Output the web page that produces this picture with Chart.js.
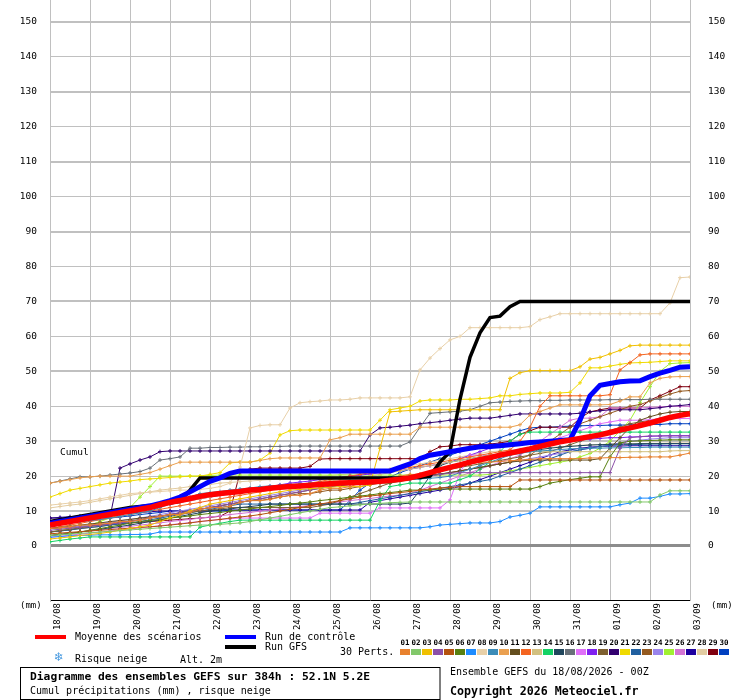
<!DOCTYPE html>
<html><head><meta charset="utf-8">
<script src="https://cdn.jsdelivr.net/npm/chart.js@4.4.0/dist/chart.umd.min.js"></script>
<style>html,body{margin:0;padding:0;background:#fff}canvas{display:block}</style>
</head><body>
<canvas id="c" width="740" height="700"></canvas>
<script>
// ---- tick labels ----
const dateLabels = ['18/08','19/08','20/08','21/08','22/08','23/08','24/08','25/08','26/08','27/08','28/08','29/08','30/08','31/08','01/09','02/09','03/09'];
const yTickValues = [0,10,20,30,40,50,60,70,80,90,100,110,120,130,140,150];

// ---- main series (6-hourly cumulative precipitation, mm) ----
const meanValues = [6,6.5,7,7.5, 8,8.5,9,9.5, 10,10.5,11,11.8, 12.5,13,13.6,14.2, 14.7,15,15.3,15.6, 16,16.2,16.5,16.8, 17,17.2,17.4,17.6, 17.8,18,18.1,18.2, 18.3,18.5,18.8,19.1, 19.5,20.2,21,21.8, 22.5,23.2,24,24.7, 25.3,26,26.6,27.2, 27.8,28.5,29.2,29.8, 30.3,30.8,31.3,31.8, 32.5,33.2,33.8,34.5, 35.2,36,36.8,37.4, 37.9];
const controlValues = [6.5,7,7.5,8, 8.5,9,9.5,10, 10.5,11,11.5,12.2, 13,14,15.5,17, 18.5,19.5,20.8,21.5, 21.5,21.5,21.5,21.5, 21.5,21.5,21.5,21.5, 21.5,21.5,21.5,21.5, 21.5,21.5,21.5,22.5, 23.5,25,26,26.5, 27,27.5,28,28.4, 28.5,28.7,29,29.3, 29.6,29.8,30,30.2, 30.4,36,43,46, 46.5,47,47.2,47.3, 48.5,49.5,50.3,51.2, 51.3];
const gfsValues = [7,7.5,8,8.5, 9,9.5,10,10.5, 11,11.3,11.6,12, 12.3,12.8,16,19.5, 19.5,19.5,19.5,19.5, 19.5,19.5,19.5,19.5, 19.5,19.5,19.5,19.5, 19.5,19.5,19.5,19.5, 19.5,19.5,19.5,19.5, 19.6,19.6,20,24, 27,42,54,61, 65.4,65.8,68.5,70, 70,70,70,70, 70,70,70,70, 70,70,70,70, 70,70,70,70, 70];

// ---- 30 perturbations ----
const p01 = [5,5.2,5.5,6, 6,6.3,6.5,7, 7,7.4,8,8.5, 9,9,9.6,10.5, 11,11,11.4,12.5, 13,13,13.3,14, 14.5,14.5,15,16, 16.5,16.5,17,18, 18.5,18.5,19,20, 20.5,20.5,21,22, 22.5,23,23.5,24, 24,24.2,24.4,24.6, 24.8,25,25,25, 25,25,25.2,25.2, 25.3,25.3,25.4,25.4, 25.5,25.5,25.5,26, 26.6];
const p02 = [3,3.2,3.4,3.6, 3.8,4,4.2,4.4, 4.6,4.8,5,5.2, 5.4,5.6,5.8,6, 6,6.2,6.4,6.6, 7,7.5,8,8.5, 9,9.5,10,10.5, 11,11.2,11.5,11.8, 12,12.2,12.4,12.5, 12.6,12.6,12.6,12.6, 12.6,12.6,12.6,12.6, 12.6,12.6,12.6,12.6, 12.6,12.6,12.6,12.6, 12.6,12.6,12.6,12.6, 12.6,12.6,12.6,12.6, 12.6,14.6,15.8,15.8, 15.8];
const p03 = [2,2.3,2.6,3, 3.3,3.6,4,4.5, 5,5.5,6,7, 8,9,10,11, 12,12.5,13,13.5, 14,14.5,15,15.5, 16,16.2,16.4,16.6, 16.8,17,17,17, 17.5,28,38.4,38.6, 38.8,39,39,39, 39,39,39,39, 39,39,48,49.6, 50.2,50.2,50.2,50.2, 50.2,51.3,53.5,54, 55,56,57.3,57.5, 57.5,57.5,57.5,57.5, 57.5];
const p04 = [4.5,4.8,5.1,5.4, 5.7,6,6.3,6.6, 7,7.5,8,8.5, 9,9.5,10,10.5, 11,11.5,12,12.5, 13,13.5,14,14.5, 15,15.5,16,16.5, 17,17.5,18,18, 18.3,18.6,19,19.3, 19.5,19.8,20,20.5, 20.8,21,21,21, 21,21,21,21, 21,21,21,21, 21,21,21,21, 21,28,31,31.3, 31.5,31.5,31.5,31.5, 31.5];
const p05 = [3.5,3.7,3.9,4.1, 4.3,4.5,4.7,4.9, 5.1,5.3,5.5,5.7, 6,6.3,6.6,7, 7.3,7.6,8,8.3, 8.6,9,9.5,10, 10.5,11,11.5,12, 12.5,13,13.5,14, 14.3,14.6,15,15.3, 15.6,16,16.3,16.6, 16.8,17,17,17, 17,17,17,18.9, 18.9,18.9,18.9,18.9, 18.9,18.9,18.9,18.9, 18.9,18.9,18.9,18.9, 18.9,18.9,18.9,18.9, 18.9];
const p06 = [3,3.3,3.6,4, 4.5,5,5.5,6, 6.5,7,7.3,7.6, 8,8.3,8.6,9, 9.3,9.6,10,10.3, 10.6,11,11.3,11.6, 12,12.3,12.6,13, 13.3,13.6,14,14.3, 14.6,15,15.3,15.6, 16,16,16,16.3, 16.3,16.3,16.3,16.3, 16.3,16.3,16.3,16.3, 16.3,17,18,18.5, 19,19.4,19.8,19.8, 25.5,29.5,30,30.1, 30.2,30.3,30.4,30.4, 30.4];
const p07 = [2.5,2.7,2.9,3, 3.1,3.2,3.2,3.2, 3.3,3.3,3.4,4, 4,4,4,4, 4,4,4,4, 4,4,4,4, 4,4,4,4, 4,4,5.2,5.2, 5.2,5.2,5.2,5.2, 5.2,5.2,5.5,6, 6.2,6.4,6.6,6.6, 6.6,7,8.3,8.8, 9.4,11.2,11.2,11.2, 11.2,11.2,11.2,11.2, 11.2,11.8,12.3,13.7, 13.7,14.2,14.9,14.9, 15];
const p08 = [11.7,12,12.3,12.6, 13,13.5,14,14.5, 15,15.2,15.4,15.6, 15.8,16,16,16.2, 16.5,17,18,22.6, 33.8,34.5,34.7,34.7, 39.5,41,41.3,41.5, 41.8,41.8,42,42.4, 42.4,42.4,42.4,42.4, 42.7,50.4,53.8,56.5, 59,60,62.5,62.5, 62.5,62.5,62.5,62.5, 62.8,64.8,65.6,66.5, 66.5,66.5,66.5,66.5, 66.5,66.5,66.5,66.5, 66.5,66.5,69.6,76.8, 77];
const p09 = [6,6.3,6.6,7, 7.3,7.6,8,8.5, 9,9.5,10,11, 12,13,14,15, 15.3,15.6,16,16.3, 16.6,17,17.2,17.4, 17.6,17.8,18,18, 18,18,18,18, 18.2,18.4,18.6,18.8, 19,19.2,19.4,19.6, 20,21,22,23, 24,25,26,26.5, 27,27.2,27.4,27.6, 27.8,27.9,28,28, 28.1,28.1,28.2,28.2, 28.3,28.3,28.3,28.3, 28.3];
const p10 = [18,18.5,19,19.5, 19.8,20,20,20, 20,20.5,21,22, 23,24,24,24, 24,24,24,24, 24,24.5,25,25.2, 25.2,25.2,25.2,25.2, 30.4,31,32,32, 32,32,32,32, 32,34,34,34, 34,34,34,34, 34,34,34,34.7, 37.5,38.5,39.5,40.4, 40.4,40.4,40.4,40.4, 40.5,41.5,42.7,42.7, 46.7,48,48.4,48.5, 48.5];
const p11 = [5,5.3,5.6,6, 6.3,6.6,7,7.3, 7.6,8,8.3,8.6, 9,9.5,10,10.5, 11,11.5,12,12.5, 13,13.5,14,14.5, 15,15.5,16,16.5, 17,17.3,17.6,18, 18.3,18.6,19,19.3, 19.6,20,20.3,20.6, 21,21.5,22,22.5, 23,23.5,24,24.3, 24.6,24.6,24.6,24.6, 24.6,24.6,24.6,25, 28,31,34,36, 37,37.8,38.3,38.5, 38.5];
const p12 = [5,5.5,6,6.5, 7,7.5,8,8.5, 9,9.5,10,10.5, 11,11.5,12,12.5, 13,13.5,14,14.5, 15,15.5,16,16.5, 17,17.5,18,18.5, 19,19.5,20,20.5, 21,21.3,21.6,22, 22.5,23,23.5,24, 24.5,25,25.5,26, 26.5,27,27.5,30, 34,40,43,43, 43,43,43,43, 43.3,50.4,52.5,54.7, 55,55,55,55, 55];
const p13 = [7,7.3,7.6,8, 8.4,8.8,9.2,9.6, 10,10.5,11,11.5, 12,12.5,13,13.5, 14,14.5,15,15.5, 16,16.3,16.6,17, 17.3,17.6,18,18.3, 18.6,19,19.3,19.6, 20,20.5,21,21.5, 22,22.5,23,23.5, 24,24.5,25,25.5, 26,26.3,26.6,26.8, 27,27,27,27, 27,27,27,27, 27,27,27,27, 27,27,27.2,27.3, 27.3];
const p14 = [1.2,1.6,2,2.3, 2.6,2.6,2.6,2.6, 2.6,2.6,2.6,2.6, 2.6,2.6,2.6,5.4, 6,6.5,7,7.4, 7.4,7.4,7.4,7.4, 7.4,7.4,7.4,7.4, 7.4,7.4,7.4,7.4, 7.4,13,17,17.5, 18,18,18,18, 18,19,20,22, 24,27,30,32, 32.6,32.6,32.6,32.6, 32.6,32.6,32.6,32.6, 32.6,32.6,32.6,32.6, 32.6,32.6,32.6,32.6, 32.6];
const p15 = [3,3.3,3.6,4, 4.4,4.8,5.2,5.6, 6,6.5,7,7.5, 8,8.5,9,9.5, 10,10.3,10.6,11, 11.3,11.6,12,12, 12,12,12,12, 12,12,12,12, 12,12,12,12, 12.3,16,20,23, 24,24.5,25,25.5, 26,26.3,26.6,27, 27.3,27.6,28,28.3, 28.5,28.7,28.9,29, 29.1,29.2,29.2,29.3, 29.3,29.3,29.3,29.3, 29.3];
const p16 = [18,18.6,19.2,19.8, 19.8,20,20.3,20.6, 20.9,21.3,22.3,24.6, 25,25.5,28,28, 28.2,28.2,28.3,28.3, 28.4,28.4,28.5,28.5, 28.6,28.6,28.6,28.6, 28.6,28.6,28.6,28.6, 28.6,28.6,28.6,28.6, 29.8,34,38,38.2, 38.4,38.6,39,40, 41,41.2,41.4,41.5, 41.6,41.6,41.7,41.7, 41.8,41.8,41.8,41.8, 41.9,41.9,41.9,41.9, 42,42,42,42, 42];
const p17 = [2.5,2.8,3.1,3.4, 3.7,4,4.3,4.6, 4.9,5.2,5.5,5.8, 6.1,6.4,6.7,7, 7.3,7.6,7.8,8, 8,8,8,8, 8,8,8,9.4, 9.4,9.4,9.4,9.4, 9.4,10.9,10.9,10.9, 10.9,10.9,10.9,10.9, 13.2,21,26,26, 26,26,26.5,27, 28,29,30,31, 32,33,34,35, 35.5,36,36,36, 36.2,36.4,36.5,36.5, 36.5];
const p18 = [6,6.5,7,7.5, 8,8.5,9,9.5, 10,10.5,11,11.5, 12,12.5,13,13.5, 14,14.5,15,15.5, 16,16.5,17,17.5, 18,18.3,18.6,19, 19.3,19.6,20,20.3, 20.6,21,21.3,21.6, 22,22.5,23,23.5, 24,25,26,27, 28,28.5,29,29.3, 29.6,29.8,30,30, 30.2,30.4,30.6,30.8, 31,31,31.2,31.3, 31.4,31.5,31.6,31.6, 31.6];
const p19 = [4,4.4,4.8,5.2, 5.6,6,6.4,6.8, 7.2,7.6,8,8.4, 8.8,9.2,9.6,10, 10.3,10.6,11,11, 11,11,11,11, 11,11,11,11.5, 12,13,14,15, 16,17,18,19, 20,20.5,21,21.5, 22,22.5,23,23.5, 24,24.5,25,25.5, 26,26.5,27,28, 29,30,31,32, 33,34,35,35.5, 36,36.5,37,37.3, 37.5];
const p20 = [8,8,8.1,8.1, 8.2,8.2,8.3,22.3, 23.5,24.6,25.5,27, 27.2,27.2,27.2,27.2, 27.2,27.2,27.2,27.2, 27.2,27.2,27.2,27.2, 27.2,27.2,27.2,27.2, 27.2,27.2,27.2,27.2, 31.8,33.8,34,34.3, 34.6,35,35.3,35.6, 36,36.3,36.6,36.6, 36.6,37,37.4,37.8, 37.8,37.8,37.8,37.8, 37.8,38,38.4,38.7, 39,39,39,39, 39.3,39.6,40,40.2, 40.5];
const p21 = [14,15,16,16.5, 17,17.5,18,18.3, 18.6,19,19.2,19.4, 19.6,19.8,20,20, 20.5,21,23.8,24, 24,24.6,26.6,31.8, 33,33.2,33.2,33.2, 33.2,33.2,33.2,33.2, 33.2,36,39,39.5, 40,41.5,41.8,41.8, 41.8,42,42,42.2, 42.4,43,43,43.4, 43.6,43.8,43.8,43.8, 44,46.7,51,51, 51.5,52,52.4,52.5, 52.6,52.8,53,53, 53];
const p22 = [4,4.3,4.6,5, 5.3,5.6,6,6.3, 6.6,7,7.5,8, 8.5,9,9.5,10, 10.5,11,11.5,12, 12,12,12,12, 12,12,12,12, 12,12,12,12.5, 13,13.5,14,14.5, 15,15.5,16,16.5, 17,17.5,18,18.5, 19,20,21,22, 23,24,25,26, 27,27.5,28,28.5, 28.8,29,29,29.1, 29.2,29.2,29.3,29.3, 29.3];
const p23 = [4,4.3,4.6,5, 5.3,5.6,6,6.5, 7,7.5,8,8.5, 9,9.5,10,10.5, 11,11.5,12,12.5, 13,13,13.5,14, 14.5,15,15,15.5, 16,16,16.5,17, 17.5,18,18,18.5, 19,19.5,20,20.5, 21,21.5,22,22.5, 23,23.5,24,25, 26,28,30,32, 34,35,36,37, 38,39,40,40.5, 41.5,42.5,43.5,44.3, 44.5];
const p24 = [5,5.2,5.4,5.6, 6,6.4,6.8,7.2, 7.6,8,8.5,9, 9.5,10,10.5,11, 11.5,12,12.5,13, 13.5,14,14.5,15, 15.5,16,16.3,16.6, 17,17.3,17.6,18, 18.3,18.6,19,19.3, 19.6,20,20.3,20.6, 21,21.5,22,22.5, 23,23.5,24,24.5, 25,25.5,26,26.5, 27,27.5,28,28.5, 29,29.5,30,30.3, 30.6,30.8,31,31, 31];
const p25 = [4,4.5,5,5.5, 6,7,8,9, 11,14,17,20, 20,20,20,20, 20.2,20.3,20.3,20.3, 20.3,20.3,20.3,20.3, 20.3,20.3,20.3,20.3, 20.3,20.3,20.3,20.3, 20.3,20.3,20.3,20.3, 20.3,20.3,20.3,20.3, 20.3,20.3,20.3,20.3, 20.5,21,21.5,22, 22.5,23,23.5,24, 24.5,25.5,26.5,28, 30,33,36,41, 45.6,50,52.2,52.4, 52.5];
const p26 = [3,3.3,3.6,4, 4.3,4.6,5,5.3, 5.6,6,6.3,6.6, 7,7.3,7.6,8, 8.3,8.6,9,9.3, 9.6,10,10.3,10.6, 11,11.3,11.6,12, 12.3,12.6,13,13.3, 13.6,14,14.3,14.6, 15,16,17,18, 19,20,21,22, 23,24,25,26, 28,30,32,34, 36,36.6,36.6,37, 39.5,39.5,39.5,39.5, 39.7,39.8,40,40, 40];
const p27 = [8,8.2,8.4,8.6, 8.8,9,9,9.2, 9.4,9.6,9.8,10, 10,10,10,10, 10,10.3,10.3,10.3, 10.3,10.3,10.3,10.3, 10.3,10.3,10.3,10.3, 10.3,10.3,10.3,10.3, 12.5,13,13.5,14, 14.5,15,15.5,16, 16.5,17,18,19, 20,21,22,23, 24,25,26,27, 27.5,28,28.3,28.5, 28.6,28.6,28.7,28.7, 28.7,28.7,28.7,28.7, 28.7];
const p28 = [10.9,11.3,11.7,12, 12.5,13,13.5,14, 14.5,15,15.5,16, 16.3,16.6,17,17.3, 17.6,18,18.2,18.4, 18.6,18.8,19,19.2, 19.4,19.6,19.8,20, 20.2,20.4,20.6,20.8, 21,21.5,22,22.5, 23,23.5,24,24.5, 25,25.5,26,26.5, 27,27.2,27.4,27.6, 27.8,28,28.2,28.4, 28.6,28.8,29,29, 29.2,29.2,29.3,29.3, 29.4,29.4,29.5,29.5, 29.5];
const p29 = [5,5.2,5.4,5.6, 5.8,6,6.2,6.4, 6.6,6.8,7,7.2, 7.4,7.6,7.8,8, 8.2,8.5,10,21, 22,22.3,22.3,22.3, 22.3,22.3,22.8,24.9, 25,25,25,25, 25,25,25,25, 25,25,27,28.4, 28.6,29,29,29, 29.2,29.5,30,32, 33,34,34,34, 34,36.6,38.4,39, 39.5,39.5,39.5,39.5, 41.8,43,44.3,45.6, 45.6];
const p30 = [6,6.3,6.6,7, 7.3,7.6,8,8.3, 8.6,9,9.3,9.6, 10,10,10,10, 10,10,10.2,10.2, 10.3,10.3,10.3,10.3, 10.3,10.3,10.3,10.3, 10.3,10.3,13,16, 18,19,19.8,21, 22,23,24,25, 26,27,28,29, 30,31,32,33, 33.8,34,34,34.2, 34.3,34.4,34.5,34.5, 34.6,34.6,34.7,34.7, 34.8,34.8,35,35, 35];

const pertNames = ['01','02','03','04','05','06','07','08','09','10','11','12','13','14','15','16','17','18','19','20','21','22','23','24','25','26','27','28','29','30'];
const pertColors = ['#E8812E','#82C86A','#F0C000','#8C50A8','#B4520E','#588010','#1E8CFF','#E8D0A8','#3C8CB8','#EAA050','#644E1E','#F46420','#D2C080','#14D264','#20465C','#687078','#E070F8','#8020F0','#7E6030','#320070','#F0DA00','#2060A0','#945A20','#9A84EC','#A0F032','#D474D4','#1E00A0','#E2CCA2','#800010','#0040C0'];
const perts = [p01,p02,p03,p04,p05,p06,p07,p08,p09,p10,p11,p12,p13,p14,p15,p16,p17,p18,p19,p20,p21,p22,p23,p24,p25,p26,p27,p28,p29,p30];

const MONO = '"DejaVu Sans Mono", monospace';
const toPts = arr => arr.map((v, i) => ({x: i, y: v}));

const datasets = [
  {label:'Moyenne des scénarios', data: toPts(meanValues), borderColor:'#FF0000', borderWidth:5.5, pointRadius:0, order:1},
  {label:'Run de contrôle', data: toPts(controlValues), borderColor:'#0000FF', borderWidth:5, pointRadius:0, order:2},
  {label:'Run GFS', data: toPts(gfsValues), borderColor:'#000000', borderWidth:3.5, pointRadius:0, order:3}
];
perts.forEach((arr, k) => datasets.push({
  label: pertNames[k], data: toPts(arr), borderColor: pertColors[k], borderWidth: 1,
  pointStyle: 'cross', pointRadius: 2, pointBorderWidth: 1, pointBorderColor: pertColors[k],
  order: 10 + k
}));

const decor = {
  id: 'decor',
  afterDraw(chart) {
    const c = chart.ctx;
    c.save();
    c.fillStyle = '#000';
    c.textBaseline = 'middle';
    c.textAlign = 'left';
    c.font = '9.5px ' + MONO;
    c.fillText('Cumul', 60, 453);
    c.font = '9px ' + MONO;
    c.fillText('(mm)', 20, 606);
    c.fillText('(mm)', 711, 606);
    // legend lines
    c.fillStyle = '#FF0000'; c.fillRect(35, 635, 31, 4);
    c.fillStyle = '#0000FF'; c.fillRect(225, 635, 31, 4);
    c.fillStyle = '#000000'; c.fillRect(225, 645, 31, 4);
    c.fillStyle = '#000';
    c.font = '10px ' + MONO;
    c.fillText('Moyenne des scénarios', 75, 637);
    c.fillText('Run de contrôle', 265, 637);
    c.fillText('Run GFS', 265, 647);
    c.fillText('Risque neige', 75, 659);
    c.fillText('Alt. 2m', 180, 660);
    c.fillText('30 Perts.', 340, 652);
    c.fillStyle = '#4A9BE0';
    c.font = '12px "DejaVu Sans"';
    c.fillText('\u2744', 54, 658);
    // perturbation colour keys
    c.textAlign = 'center';
    c.font = 'bold 7.5px ' + MONO;
    pertNames.forEach((n, k) => {
      c.fillStyle = '#000';
      c.fillText(n, 405 + 11 * k, 643.5);
      c.fillStyle = pertColors[k];
      c.fillRect(400 + 11 * k, 649, 10, 6);
    });
    // title box
    c.strokeStyle = '#000'; c.lineWidth = 1;
    c.strokeRect(20.5, 667.5, 419.5, 32);
    c.fillStyle = '#000';
    c.textAlign = 'left';
    c.font = 'bold 11.3px ' + MONO;
    c.fillText('Diagramme des ensembles GEFS sur 384h : 52.1N 5.2E', 30, 677.5);
    c.font = '10px ' + MONO;
    c.fillText('Cumul précipitations (mm) , risque neige', 30, 691.5);
    c.fillText('Ensemble GEFS du 18/08/2026 - 00Z', 450, 672.5);
    c.font = 'bold 11.6px ' + MONO;
    c.fillText('Copyright 2026 Meteociel.fr', 450, 691.5);
    c.restore();
  }
};

const zeroPad = s => { s.paddingTop = 0; s.paddingBottom = 0; s.paddingLeft = 0; s.paddingRight = 0; };
const yRange = {min: -15.46, max: 156.3};
const gridColor = ctx => (ctx.tick && ctx.tick.value === 0) ? '#8C8C8C' : '#C0C0C0';
const gridWidth = ctx => {
  const v = ctx.tick ? ctx.tick.value : 1;
  if (v === 0) return 3;
  return (v % 20 === 10) ? 2 : 1;
};

new Chart(document.getElementById('c'), {
  type: 'line',
  data: { datasets },
  options: {
    responsive: false,
    animation: false,
    devicePixelRatio: 1,
    layout: { padding: 0, autoPadding: false },
    elements: { line: { tension: 0 } },
    plugins: { legend: { display: false }, tooltip: { enabled: false } },
    scales: {
      x: {
        type: 'linear', min: 0, max: (dateLabels.length - 1) * 4, position: 'bottom',
        afterBuildTicks: s => { s.ticks = dateLabels.map((_, k) => ({value: k * 4})); },
        afterFit: s => { s.height = 100; zeroPad(s); },
        ticks: {
          autoSkip: false, minRotation: 90, maxRotation: 90, padding: 3, labelOffset: 8,
          color: '#000', font: {family: MONO, size: 9},
          callback: (v, i) => dateLabels[i]
        },
        grid: { color: '#C0C0C0', lineWidth: 1, drawTicks: false },
        border: { display: true, color: '#000', width: 1 }
      },
      y: {
        type: 'linear', position: 'left', min: yRange.min, max: yRange.max,
        afterBuildTicks: s => { s.ticks = yTickValues.map(v => ({value: v})); },
        afterFit: s => { s.width = 50; zeroPad(s); },
        ticks: { padding: 13, color: '#000', font: {family: MONO, size: 9.5} },
        grid: { color: gridColor, lineWidth: gridWidth, drawTicks: false },
        border: { display: true, color: '#C0C0C0', width: 1 }
      },
      y2: {
        type: 'linear', position: 'right', min: yRange.min, max: yRange.max,
        afterBuildTicks: s => { s.ticks = yTickValues.map(v => ({value: v})); },
        afterFit: s => { s.width = 50; zeroPad(s); },
        ticks: { padding: 18, color: '#000', font: {family: MONO, size: 9.5} },
        grid: { display: false, drawTicks: false },
        border: { display: true, color: '#C0C0C0', width: 1 }
      }
    }
  },
  plugins: [decor]
});
</script>
</body></html>
